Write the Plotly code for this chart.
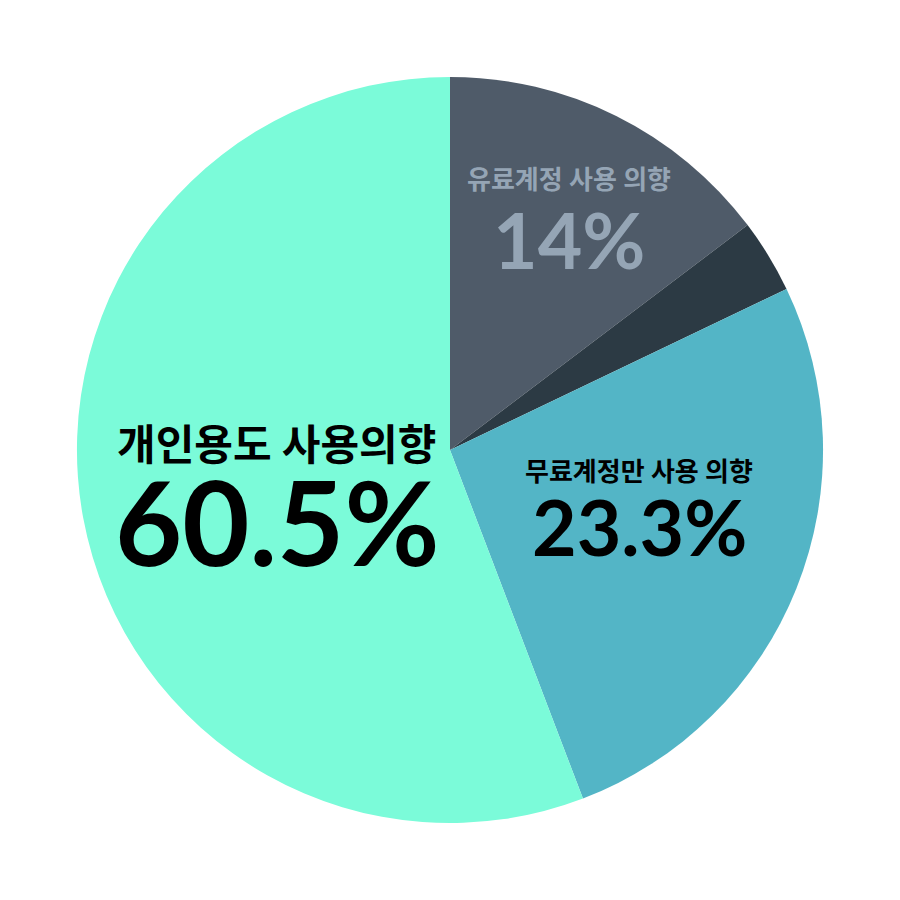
import plotly.graph_objects as go

segments = ["유료계정 사용 의향", "기타", "무료계정만 사용 의향", "개인용도 사용의향"]
shares = [14.7, 3.2, 26.3, 55.8]
colors = ["#4f5b69", "#2c3a44", "#53b5c6", "#7bfbd9"]

label_names = ["유료계정 사용 의향", "무료계정만 사용 의향", "개인용도 사용의향"]
label_values = ["14%", "23.3%", "60.5%"]

fig = go.Figure(go.Pie(
    labels=segments,
    values=shares,
    sort=False,
    direction="clockwise",
    rotation=0,
    marker=dict(colors=colors, line=dict(width=0)),
    textinfo="none",
    hoverinfo="label+percent",
    domain=dict(x=[0.078, 0.922], y=[0.078, 0.922]),
))

font_fam = "Lato, Noto Sans CJK KR, sans-serif"
# (x, y of name, y of value, name size, value size, colour)
spots = [
    (0.635, 0.806, 0.739, 26, 77, "#95a5b5"),
    (0.714, 0.476, 0.414, 26, 77, "#000000"),
    (0.304, 0.507, 0.419, 42, 116, "#000000"),
]

anns = []
for (x, yn, yv, sn, sv, c), name, val in zip(spots, label_names, label_values):
    anns.append(dict(x=x, y=yn, xref="paper", yref="paper", showarrow=False,
                     xanchor="center", yanchor="middle",
                     text="<b>" + name + "</b>",
                     font=dict(family=font_fam, size=sn, color=c)))
    anns.append(dict(x=x, y=yv, xref="paper", yref="paper", showarrow=False,
                     xanchor="center", yanchor="middle",
                     text="<b>" + val + "</b>",
                     font=dict(family=font_fam, size=sv, color=c)))

fig.update_layout(
    margin=dict(l=0, r=0, t=0, b=0),
    paper_bgcolor="white",
    showlegend=False,
    annotations=anns,
)

fig.write_html("out.html")
